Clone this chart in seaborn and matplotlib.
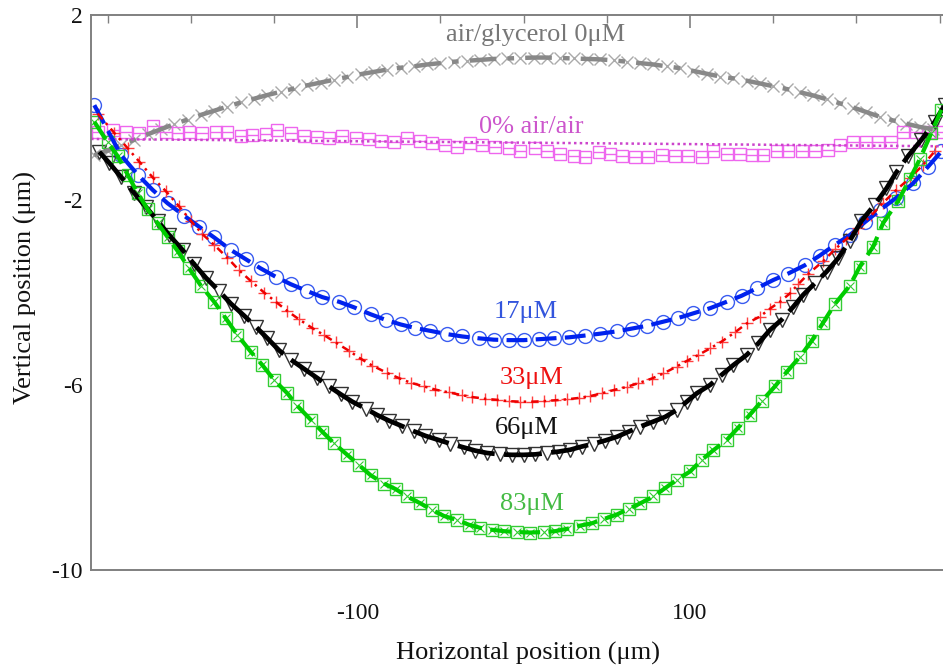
import numpy as np
import pandas as pd
import seaborn as sns
import matplotlib
matplotlib.use("Agg")
import matplotlib.pyplot as plt
from matplotlib.ticker import FixedLocator, MultipleLocator

# ---- data (x in um, y in um) ----
glyc_x = [-258, -250, -242, -234, -226, -218, -210, -202, -194, -186, -178, -170, -162, -154, -146,
          -138, -130, -122, -114, -106, -98, -90, -82, -74, -66, -58, -50, -42, -34, -26, -18, -10,
          -2, 6, 14, 22, 30, 38, 46, 54, 62, 70, 78, 86, 94, 102, 110, 118, 126, 134, 142, 150, 158,
          166, 174, 182, 190, 198, 206, 214, 222, 230, 238, 246]
glyc_y = [-1.03, -0.93, -0.81, -0.70, -0.58, -0.47, -0.36, -0.26, -0.16, -0.07, 0.02, 0.11, 0.19,
          0.27, 0.34, 0.41, 0.48, 0.54, 0.60, 0.66, 0.72, 0.77, 0.82, 0.86, 0.89, 0.93, 0.96, 0.99,
          1.01, 1.03, 1.05, 1.06, 1.07, 1.08, 1.08, 1.07, 1.06, 1.05, 1.04, 1.02, 0.99, 0.96, 0.93,
          0.89, 0.85, 0.79, 0.73, 0.67, 0.63, 0.58, 0.52, 0.46, 0.40, 0.33, 0.26, 0.18, 0.09, 0.00,
          -0.10, -0.20, -0.28, -0.35, -0.42, -0.47]

air_x = [-256, -247, -239, -231, -223, -215, -208, -201, -193, -185, -178, -170, -163, -155, -148,
         -140, -132, -124, -117, -109, -101, -93, -86, -78, -70, -62, -55, -47, -40, -32, -25, -17,
         -9, -2, 7, 14, 22, 30, 37, 45, 52, 59, 67, 75, 83, 91, 99, 107, 114, 122, 130, 137, 144,
         152, 159, 167, 175, 183, 190, 198, 206, 213, 221, 228, 236, 244, 251]
air_y = [-0.52, -0.49, -0.52, -0.56, -0.41, -0.52, -0.56, -0.54, -0.56, -0.52, -0.52, -0.61, -0.59,
         -0.58, -0.49, -0.56, -0.61, -0.63, -0.65, -0.61, -0.65, -0.68, -0.72, -0.74, -0.67, -0.72,
         -0.77, -0.81, -0.85, -0.77, -0.81, -0.85, -0.88, -0.95, -0.88, -0.95, -1.01, -1.04, -1.06,
         -0.97, -1.01, -1.04, -1.06, -1.08, -1.03, -1.04, -1.04, -1.06, -0.95, -1.01, -1.01, -1.03,
         -1.03, -0.94, -0.95, -0.94, -0.94, -0.92, -0.81, -0.75, -0.74, -0.74, -0.74, -0.54, -0.52,
         -0.54, -0.52]
air_fit_x = [-260, 258]
air_fit_y = [-0.68, -0.84]

c17_x = [-258, -242, -232, -223, -214, -204, -195, -186, -176, -167, -158, -149, -140, -130, -121,
         -111, -102, -92, -83, -74, -65, -56, -46, -37, -27, -18, -9, 0, 9, 18, 27, 37, 46, 56, 65,
         74, 84, 93, 102, 112, 122, 131, 140, 150, 159, 169, 178, 187, 196, 205, 214, 224, 234, 243,
         251]
c17_y = [0.05, -1.03, -1.45, -1.78, -2.07, -2.34, -2.58, -2.81, -3.08, -3.28, -3.48, -3.66, -3.82,
         -3.97, -4.10, -4.20, -4.32, -4.47, -4.59, -4.69, -4.77, -4.83, -4.90, -4.95, -4.99, -5.02,
         -5.03, -5.03, -5.01, -4.99, -4.97, -4.93, -4.89, -4.84, -4.78, -4.72, -4.63, -4.55, -4.45,
         -4.34, -4.20, -4.07, -3.91, -3.73, -3.59, -3.41, -3.20, -2.97, -2.76, -2.48, -2.22, -1.95,
         -1.64, -1.28, -0.95]

c33_x = [-256, -246, -238, -231, -223, -215, -207, -200, -193, -186, -178, -171, -164, -156, -149,
         -142, -135, -127, -120, -113, -105, -98, -91, -82, -75, -68, -60, -53, -45, -37, -31, -23,
         -16, -9, -2, 5, 12, 19, 26, 33, 40, 47, 54, 62, 69, 77, 84, 92, 98, 105, 112, 119, 127,
         134, 142, 148, 154, 160, 165, 171, 180, 187, 194, 201, 209, 216, 224, 232, 240, 247]
c33_y = [-0.13, -0.55, -0.88, -1.17, -1.51, -1.81, -2.14, -2.45, -2.74, -2.97, -3.25, -3.52, -3.75,
         -4.00, -4.20, -4.40, -4.58, -4.77, -4.92, -5.08, -5.26, -5.43, -5.58, -5.74, -5.85, -5.95,
         -6.03, -6.10, -6.16, -6.22, -6.26, -6.30, -6.32, -6.35, -6.36, -6.36, -6.35, -6.33, -6.31,
         -6.28, -6.24, -6.18, -6.11, -6.04, -5.96, -5.86, -5.75, -5.60, -5.48, -5.35, -5.21, -5.06,
         -4.86, -4.67, -4.52, -4.35, -4.20, -4.02, -3.82, -3.60, -3.32, -3.07, -2.84, -2.60, -2.33,
         -2.06, -1.78, -1.53, -1.24, -0.95]

c66_x = [-255, -249, -242, -234, -227, -220, -213, -205, -198, -191, -183, -176, -168, -161, -154,
         -147, -140, -132, -124, -117, -110, -103, -95, -88, -81, -73, -66, -59, -51, -44, -36, -29,
         -22, -14, -7, 0, 7, 14, 21, 28, 35, 42, 49, 56, 63, 70, 78, 85, 92, 98, 104, 112, 119, 126,
         134, 141, 148, 155, 162, 168, 175, 182, 189, 196, 203, 211, 218, 224, 231, 239, 247, 253]
c66_y = [-0.96, -1.20, -1.50, -1.85, -2.15, -2.45, -2.76, -3.08, -3.39, -3.68, -3.97, -4.24, -4.50,
         -4.74, -4.99, -5.25, -5.45, -5.65, -5.85, -6.03, -6.20, -6.36, -6.51, -6.65, -6.77, -6.89,
         -7.00, -7.10, -7.19, -7.27, -7.35, -7.42, -7.47, -7.50, -7.51, -7.51, -7.50, -7.47, -7.44,
         -7.40, -7.33, -7.27, -7.20, -7.12, -7.01, -6.90, -6.79, -6.69, -6.54, -6.36, -6.18, -6.00,
         -5.78, -5.57, -5.35, -5.10, -4.81, -4.59, -4.31, -4.05, -3.80, -3.55, -3.26, -2.88, -2.45,
         -2.10, -1.75, -1.40, -1.05, -0.70, -0.31, 0.05]

c83_x = [-258, -250, -244, -238, -232, -226, -220, -214, -208, -201, -194, -186, -179, -172, -164,
         -157, -150, -142, -136, -128, -121, -114, -106, -99, -92, -84, -77, -70, -62, -55, -48, -40,
         -33, -26, -19, -12, -4, 4, 12, 19, 26, 34, 41, 48, 56, 63, 70, 78, 85, 92, 100, 107, 114,
         122, 129, 136, 143, 151, 158, 166, 173, 180, 187, 196, 202, 210, 216, 225, 232, 238, 245, 251]
c83_y = [-0.31, -0.75, -1.05, -1.45, -1.85, -2.20, -2.50, -2.80, -3.10, -3.48, -3.85, -4.20, -4.56,
         -4.92, -5.28, -5.57, -5.89, -6.18, -6.45, -6.75, -7.01, -7.26, -7.51, -7.73, -7.95, -8.13,
         -8.25, -8.41, -8.56, -8.70, -8.83, -8.92, -9.02, -9.09, -9.13, -9.16, -9.18, -9.19, -9.18,
         -9.16, -9.11, -9.04, -8.99, -8.90, -8.80, -8.68, -8.56, -8.41, -8.23, -8.05, -7.87, -7.62,
         -7.41, -7.19, -6.92, -6.64, -6.35, -6.03, -5.72, -5.39, -5.05, -4.65, -4.25, -3.85, -3.44,
         -3.01, -2.50, -2.02, -1.55, -1.12, -0.55, -0.05]

x_major = [-300, -100, 100, 300]
y_major = [2, -2, -6, -10]

sns.set_style("white")
plt.rcParams["font.family"] = ["Liberation Serif", "DejaVu Serif"]
plt.rcParams["axes.unicode_minus"] = False

fig = plt.figure(figsize=(9.43, 6.67), dpi=100)
ax = fig.add_axes([91 / 943, 97 / 667, 862 / 943, 555 / 667])


def draw_markers(x, y, marker, ms, color, mew=1.0):
    df = pd.DataFrame({"x": x, "y": y})
    sns.lineplot(data=df, x="x", y="y", ax=ax, sort=False, estimator=None,
                 linestyle="", marker=marker, markersize=ms, color=color,
                 markerfacecolor="none", markeredgecolor=color, markeredgewidth=mew)


def draw_fit(x, y, color, ls, lw):
    df = pd.DataFrame({"x": x, "y": y})
    sns.lineplot(data=df, x="x", y="y", ax=ax, sort=False, estimator=None,
                 color=color, linestyle=ls, linewidth=lw)


# markers first, fitted curves on top
draw_markers(glyc_x, glyc_y, "x", 8.5, "#aaaaaa")
draw_markers(air_x, air_y, "s", 8.5, "#ee66ee")
draw_markers(air_x, air_y, "_", 8.5, "#ee66ee")
draw_markers(c17_x, c17_y, "o", 10, "#3a5cf0")
draw_markers(c33_x, c33_y, "+", 8, "#ff4040")
draw_markers(c66_x, c66_y, "v", 9.5, "#333333")
draw_markers(c83_x, c83_y, "s", 8, "#33cc33")
draw_markers(c83_x, c83_y, "x", 5.5, "#33cc33", mew=0.8)

draw_fit(glyc_x, glyc_y, "#888888", (0, (6, 2.5, 1.5, 2.5)), 3.2)
draw_fit(air_fit_x, air_fit_y, "#cc44cc", (0, (1, 1.3)), 1.8)
draw_fit(c17_x, c17_y, "#0022ee", (0, (5, 2)), 3.0)
draw_fit(c33_x, c33_y, "#ee0000", (0, (3, 2, 1, 2)), 1.8)
draw_fit(c66_x, c66_y, "#000000", (0, (8, 2)), 3.4)
draw_fit(c83_x, c83_y, "#00cc00", (0, (5, 2)), 3.0)

ax.set_xlim(-260, 258)
ax.set_ylim(-10, 2)
ax.xaxis.set_major_locator(FixedLocator(x_major))
ax.xaxis.set_minor_locator(MultipleLocator(50))
ax.yaxis.set_major_locator(FixedLocator(y_major))
ax.yaxis.set_minor_locator(MultipleLocator(1))
ax.tick_params(which="both", direction="in", top=True, right=False,
               color="#808080", labelcolor="#111111", labelsize=17)
ax.tick_params(axis="x", which="major", length=9, width=1.2, pad=24)
ax.tick_params(axis="y", which="major", length=9, width=1.2, pad=6)
ax.tick_params(which="minor", length=6, width=1.0)
for s in ax.spines.values():
    s.set_color("#808080")
    s.set_linewidth(1.4)
ax.set_xlabel("")
ax.set_ylabel("")

# series labels
ax.text(7, 1.57, "air/glycerol 0μM", color="#777777", fontsize=19, ha="center", va="center")
ax.text(4.6, -0.42, "0% air/air", color="#cc55cc", fontsize=19, ha="center", va="center")
ax.text(1.5, -4.42, "17μM", color="#3355dd", fontsize=19, ha="center", va="center")
ax.text(5, -5.85, "33μM", color="#ee1111", fontsize=19, ha="center", va="center")
ax.text(2, -6.93, "66μM", color="#111111", fontsize=19, ha="center", va="center")
ax.text(5, -8.57, "83μM", color="#44bb44", fontsize=19, ha="center", va="center")

fig.text(528 / 943, 1 - 653 / 667, "Horizontal position (μm)", fontsize=19,
         ha="center", va="center", color="#111111")
fig.text(25 / 943, 1 - 288 / 667, "Vertical position (μm)", fontsize=19, rotation=90,
         ha="center", va="center", color="#111111")

fig.savefig("out.png", dpi=100)
